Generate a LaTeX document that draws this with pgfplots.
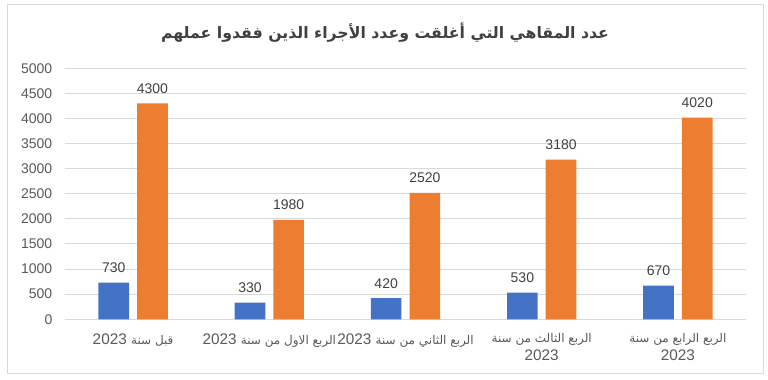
\documentclass[border=0pt]{standalone}
\usepackage{pgfplots}
\pgfplotsset{compat=1.18}
\usepackage{fontspec}
\setmainfont{Liberation Sans}
\newfontfamily\arabicfont[Script=Arabic]{DejaVu Sans}
\TeXXeTstate=1
\definecolor{cblue}{HTML}{4472C4}
\definecolor{corange}{HTML}{ED7D31}
\definecolor{gridc}{HTML}{D9D9D9}
\definecolor{tickc}{HTML}{595959}
\definecolor{labc}{HTML}{404040}
\newcommand\arf{\arabicfont\fontsize{9}{11}\selectfont}
\begin{document}
\begin{tikzpicture}[x=1pt,y=1pt]
\useasboundingbox (0,0) rectangle (576,284.25);
\draw[gridc, line width=0.75pt] (5.25,4.5) rectangle (572.25,280.5);
\node[font=\arabicfont\bfseries\fontsize{11.8}{14}\selectfont, text=labc] at (288.75,259.5) {\beginR عدد المقاهي التي أغلقت وعدد الأجراء الذين فقدوا عملهم\endR};
\begin{axis}[
  at={(48.75pt,44.8pt)}, anchor=south west,
  scale only axis, width=510.75pt, height=188.2pt,
  xmin=-0.5, xmax=4.5, ymin=0, ymax=5000,
  ytick={0,500,...,5000},
  xtick={0,1,2,3,4},
  xticklabels={
    {\beginR{\arf قبل سنة} \beginL2023\endL\endR},
    {\beginR{\arf الربع الاول من سنة} \beginL2023\endL\endR},
    {\beginR{\arf الربع الثاني من سنة} \beginL2023\endL\endR},
    {\beginR{\arf الربع الثالث  من سنة}\endR\\2023},
    {\beginR{\arf الربع الرابع  من سنة}\endR\\2023}},
  axis line style={draw=none},
  tick style={draw=none},
  ymajorgrids,
  major grid style={gridc, line width=0.75pt},
  scaled y ticks=false,
  /pgf/number format/.cd, 1000 sep={}, assume math mode=true,
  /pgfplots/.cd,
  yticklabel style={font=\fontsize{10.5}{12}\selectfont, text=tickc, xshift=-6pt},
  xticklabel style={font=\fontsize{11.5}{13.5}\selectfont, text=tickc, align=center, yshift=-3pt},
  ybar, bar width=0.225,
  nodes near coords,
  nodes near coords style={font=\fontsize{10.5}{12}\selectfont, text=labc, yshift=4pt},
]
\addplot[fill=cblue, draw=none, bar shift=-0.142] coordinates {(0,730) (1,330) (2,420) (3,530) (4,670)};
\addplot[fill=corange, draw=none, bar shift=0.142] coordinates {(0,4300) (1,1980) (2,2520) (3,3180) (4,4020)};
\end{axis}
\end{tikzpicture}
\end{document}
